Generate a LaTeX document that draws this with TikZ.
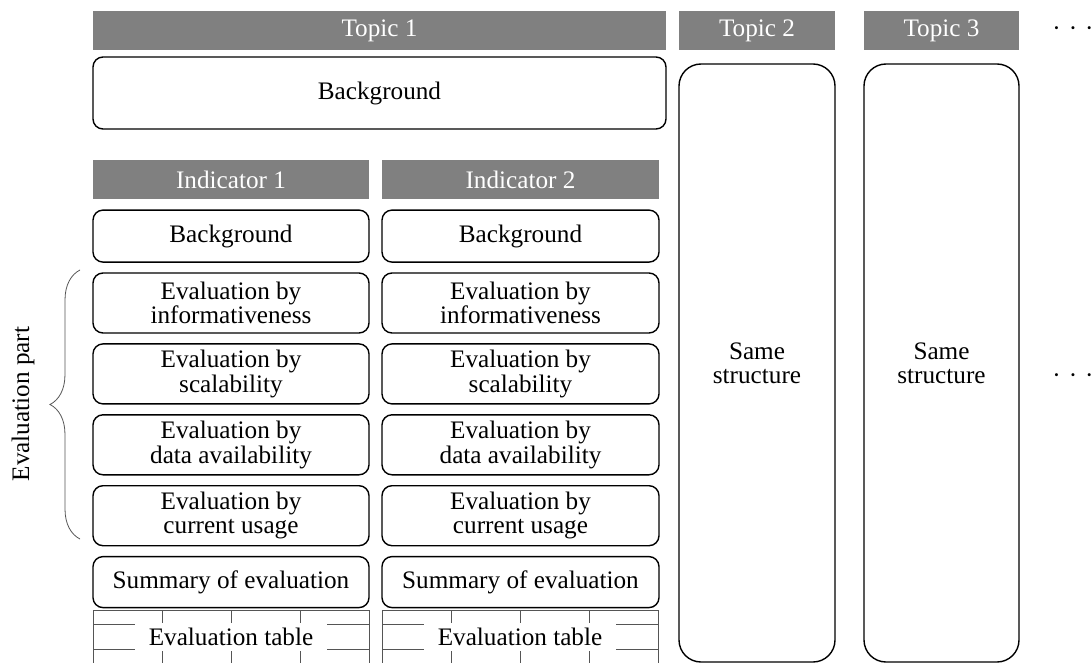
\documentclass[tikz,border=0pt]{standalone}
\usepackage{fontspec}
\setmainfont{Liberation Serif}
\usepackage{tikz}
\usetikzlibrary{positioning, decorations.pathreplacing}
\definecolor{BarGray}{HTML}{808080}
\definecolor{LineGray}{HTML}{555555}

\begin{document}
\begin{tikzpicture}[
            x=0.5pt, y=-0.5pt,
            font=\fontsize{12.6}{12.2}\selectfont,
            node distance=4.75pt,
            bar/.style={fill=BarGray, text=white, inner sep=0pt, minimum height=19.5pt},
            box/.style={draw, line width=0.7pt, rounded corners=5pt, align=center, inner sep=0pt, minimum width=138pt},
            tallbox/.style={draw, line width=0.7pt, rounded corners=11pt, align=center, minimum width=78pt, minimum height=299pt},
            gridline/.style={LineGray, line width=0.4pt},
            tabtext/.style={fill=white, inner sep=0pt, minimum width=96pt, minimum height=14pt},
            more/.style={inner sep=0pt}
        ]
            \useasboundingbox (0,0) rectangle (1091,663);

            % Topic headers
            \node[bar, minimum width=286.5pt] at (379.5,30.5) (topic1) {Topic 1};
            \node[bar, minimum width=78pt] at (757,30.5) (topic2) {Topic 2};
            \node[bar, minimum width=77.5pt] at (941.5,30.5) (topic3) {Topic 3};
            \node[more] at (1073,32) (dotstop) {\textperiodcentered\hspace{4pt}\textperiodcentered\hspace{4pt}\textperiodcentered};

            \node[box, minimum width=286.5pt, minimum height=36pt] at (379.5,93) (topicbg) {Background};

            % Indicator 1
            \node[bar, minimum width=138pt] at (231,180) (ind1) {Indicator 1};
            \node[box, minimum height=26pt, below=of ind1] (bg1) {Background};
            \node[box, minimum height=30pt, below=of bg1] (info1) {Evaluation by\\informativeness};
            \node[box, minimum height=30pt, below=of info1] (scale1) {Evaluation by\\scalability};
            \node[box, minimum height=30pt, below=of scale1] (data1) {Evaluation by\\data availability};
            \node[box, minimum height=30pt, below=of data1] (usage1) {Evaluation by\\current usage};
            \node[box, minimum height=25.5pt, below=of usage1] (sum1) {Summary of evaluation};

            % Indicator 2
            \node[bar, minimum width=138.5pt] at (520.5,180) (ind2) {Indicator 2};
            \node[box, minimum width=138.5pt, minimum height=26pt, below=of ind2] (bg2) {Background};
            \node[box, minimum width=138.5pt, minimum height=30pt, below=of bg2] (info2) {Evaluation by\\informativeness};
            \node[box, minimum width=138.5pt, minimum height=30pt, below=of info2] (scale2) {Evaluation by\\scalability};
            \node[box, minimum width=138.5pt, minimum height=30pt, below=of scale2] (data2) {Evaluation by\\data availability};
            \node[box, minimum width=138.5pt, minimum height=30pt, below=of data2] (usage2) {Evaluation by\\current usage};
            \node[box, minimum width=138.5pt, minimum height=25.5pt, below=of usage2] (sum2) {Summary of evaluation};

            % Evaluation tables
            \foreach \xo/\name in {93/tab1, 382/tab2} {
                \begin{scope}[shift={(\xo,0)}]
                    \draw[gridline] (0,610) -- (277,610);
                    \foreach \x in {0,69,138,207,276}
                        \draw[gridline] (\x,610) -- (\x,663);
                    \foreach \y in {624,649}
                        \draw[gridline] (0,\y) -- (276,\y);
                    \node[tabtext] at (138,636.5) (\name) {Evaluation table};
                \end{scope}
            }

            % Other topics
            \node[tallbox] at (757,363) (same2) {Same\\structure};
            \node[tallbox, minimum width=77.5pt] at (941.5,363) (same3) {Same\\structure};
            \node[more] at (1073,379) (dotsmid) {\textperiodcentered\hspace{4pt}\textperiodcentered\hspace{4pt}\textperiodcentered};

            % Evaluation part
            \draw[LineGray, line width=0.4pt, decorate, decoration={brace, amplitude=15pt}] (80,539) -- (80,270);
            \node[rotate=90] at (23,404) (evalpart) {Evaluation part};

        \end{tikzpicture}
\end{document}
